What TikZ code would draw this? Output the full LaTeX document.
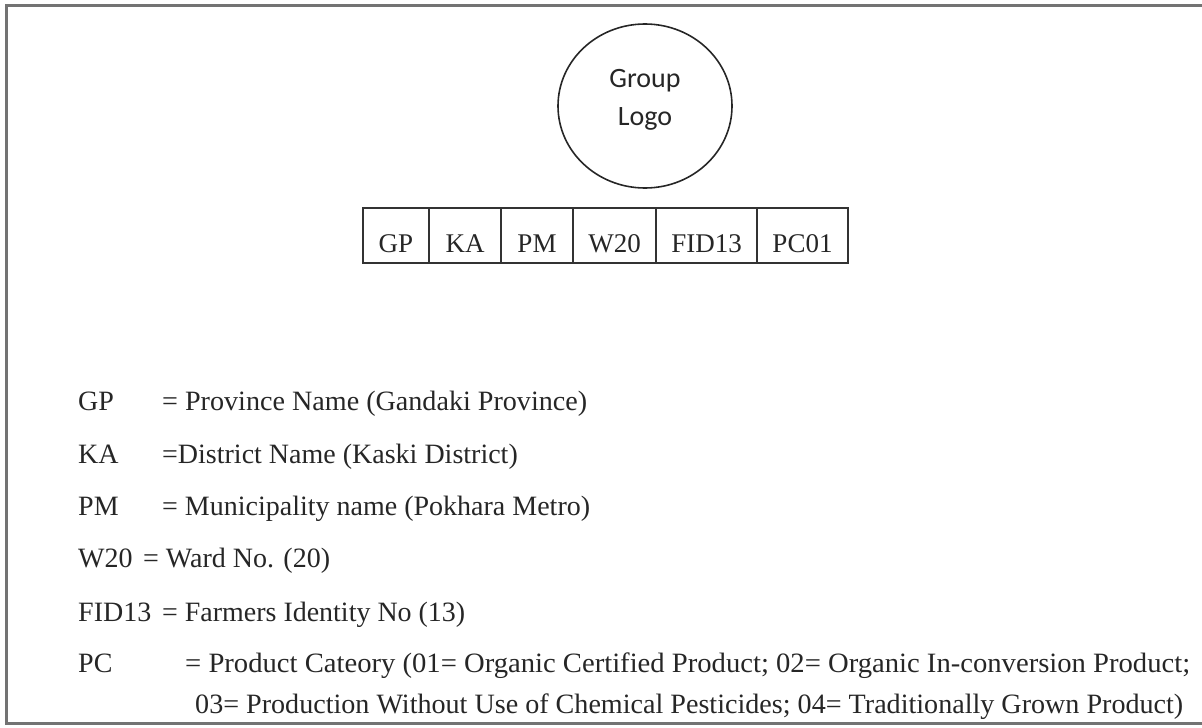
\documentclass[tikz,border=0pt]{standalone}
\usepackage{fontspec}
\usetikzlibrary{shapes.geometric}
\setmainfont{Liberation Serif}
\newfontfamily\logofont{Carlito}
\begin{document}
\begin{tikzpicture}[x=1pt,y=-1pt,
  frame/.style={draw=black!55,line width=3pt},
  logo/.style={draw=black!85,line width=1.6pt,ellipse,minimum width=174pt,minimum height=164pt,inner sep=0pt},
  cell/.style={draw=black!80,line width=1.3pt,minimum height=55pt,inner sep=0pt,text height=40pt,text depth=7pt,font=\fontsize{27}{32}\selectfont,text=black!85},
  lbl/.style={anchor=base west,inner sep=0pt,font=\fontsize{28}{34}\selectfont,text=black!85},
  def/.style={anchor=base west,inner sep=0pt,font=\fontsize{28}{34}\selectfont,text=black!85}]
\useasboundingbox (0,0) rectangle (1202,728);
\draw[frame] (6,5) rectangle (1215,723);
\node[logo] (logo) at (645,106) {};
\node[font=\logofont\fontsize{28}{38}\selectfont,align=center,text=black!85] (logotext) at (645,100) {Group\\Logo};
% table
\node[cell,minimum width=66pt]  (c1) at (396,235.5) {GP};
\node[cell,minimum width=72pt]  (c2) at (465,235.5) {KA};
\node[cell,minimum width=72pt]  (c3) at (537,235.5) {PM};
\node[cell,minimum width=83pt]  (c4) at (614.5,235.5) {W20};
\node[cell,minimum width=101pt] (c5) at (706.5,235.5) {FID13};
\node[cell,minimum width=91pt]  (c6) at (802.5,235.5) {PC01};
% legend
\node[lbl] (l1) at (78,410) {GP};
\node[def] (d1) at (162,410) {\resizebox{425pt}{\height}{= Province Name (Gandaki Province)}};
\node[lbl] (l2) at (78,463) {KA};
\node[def] (d2) at (162,463) {=District Name (Kaski District)};
\node[lbl] (l3) at (78,515) {PM};
\node[def] (d3) at (162,515) {= Municipality name (Pokhara Metro)};
\node[lbl] (l4) at (78,567) {W20};
\node[def] (d4) at (143,567) {= Ward No. (20)};
\node[lbl] (l5) at (78,621) {FID13};
\node[def] (d5) at (162,621) {\resizebox{303pt}{\height}{= Farmers Identity No (13)}};
\node[lbl] (l6) at (78,672) {PC};
\node[def] (d6) at (185,672) {\resizebox{1005pt}{\height}{= Product Cateory (01= Organic Certified Product; 02= Organic In-conversion Product;}};
\node[def] (d7) at (195,713) {\resizebox{988pt}{\height}{03= Production Without Use of Chemical Pesticides; 04= Traditionally Grown Product)}};
\end{tikzpicture}
\end{document}
